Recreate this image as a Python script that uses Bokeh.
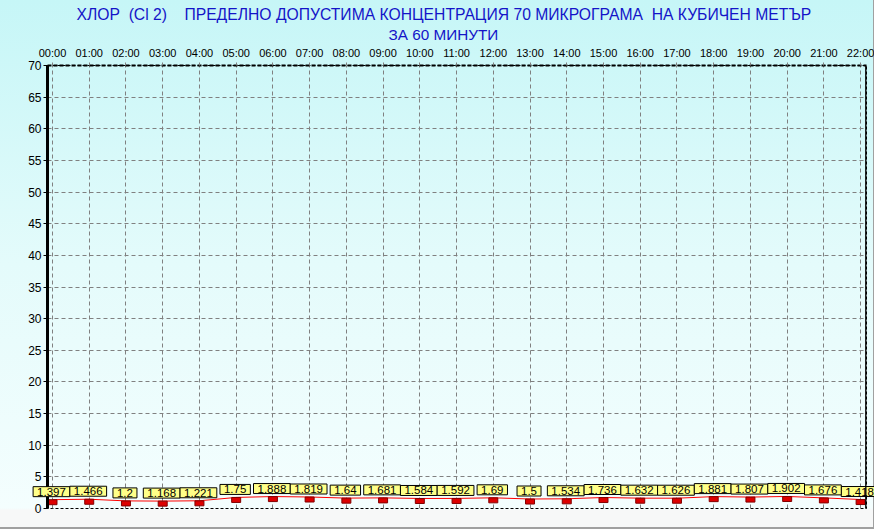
from bokeh.plotting import figure
from bokeh.models import ColumnDataSource, FixedTicker, Title, Span, Range1d, Label
from bokeh.transform import dodge
from bokeh.embed import file_html
from bokeh.resources import INLINE

# ---- data ----
hours = list(range(23))
hour_labels = ["00:00", "01:00", "02:00", "03:00", "04:00", "05:00", "06:00", "07:00",
               "08:00", "09:00", "10:00", "11:00", "12:00", "13:00", "14:00", "15:00",
               "16:00", "17:00", "18:00", "19:00", "20:00", "21:00", "22:00"]
values = [1.397, 1.466, 1.2, 1.168, 1.221, 1.75, 1.888, 1.819, 1.64, 1.681, 1.584,
          1.592, 1.69, 1.5, 1.534, 1.736, 1.632, 1.626, 1.881, 1.807, 1.902, 1.676, 1.418]
value_labels = ["1.397", "1.466", "1.2", "1.168", "1.221", "1.75", "1.888", "1.819",
                "1.64", "1.681", "1.584", "1.592", "1.69", "1.5", "1.534", "1.736",
                "1.632", "1.626", "1.881", "1.807", "1.902", "1.676", "1.418"]
y_ticks = [0, 5, 10, 15, 20, 25, 30, 35, 40, 45, 50, 55, 60, 65, 70]
y_minor_ticks = list(range(0, 71))
NB = "\u00a0"
title_line1 = ("ХЛОР" + NB + " (Cl 2)" + NB * 3 + " ПРЕДЕЛНО ДОПУСТИМА КОНЦЕНТРАЦИЯ 70 МИКРОГРАМА"
               + NB + " НА КУБИЧЕН МЕТЪР")
title_line2 = "ЗА 60 МИНУТИ"

FONT = "Liberation Sans"

src = ColumnDataSource(dict(x=hours, y=values, label=value_labels))

p = figure(width=874, height=529,
           x_range=Range1d(-0.136, 22.16), y_range=Range1d(0, 70),
           x_axis_location="above",
           output_backend="svg", toolbar_location=None,
           min_border_left=47, min_border_right=8,
           min_border_top=65, min_border_bottom=21)

p.background_fill_alpha = 0
p.border_fill_alpha = 0
p.styles = {
    "background": "linear-gradient(to bottom, #c6f6f7 0%, #e4fbfb 50%, #f4fefe 96%, #f7f8f8 96.5%, #f7f8f8 100%)",
    "box-shadow": "inset -1px -2px 0 #a0a0a0",
}
p.outline_line_color = "black"
p.outline_line_dash = "3 2"
p.outline_line_width = 1

# x axis (top)
xa = p.xaxis[0]
xa.ticker = FixedTicker(ticks=hours, minor_ticks=[])
xa.major_label_overrides = {h: lab for h, lab in zip(hours, hour_labels)}
xa.major_label_text_font = FONT
xa.major_label_text_font_size = "11px"
xa.major_label_text_color = "black"
xa.major_label_standoff = 4
xa.major_tick_out = 3
xa.major_tick_in = 0
xa.major_tick_line_color = "#808080"
xa.axis_line_color = "black"
xa.axis_line_width = 2
xa.axis_line_dash = "4 2"

# y axis (left)
ya = p.yaxis[0]
ya.ticker = FixedTicker(ticks=y_ticks, minor_ticks=y_minor_ticks)
ya.major_label_text_font = FONT
ya.major_label_text_font_size = "12px"
ya.major_label_text_color = "black"
ya.major_label_standoff = 2
ya.major_tick_out = 4
ya.major_tick_in = 0
ya.minor_tick_out = 1
ya.minor_tick_in = 0
ya.axis_line_color = "black"
ya.axis_line_width = 3

# grids
for g in (p.xgrid, p.ygrid):
    g.grid_line_color = "#808080"
    g.grid_line_dash = "4 3"
    g.grid_line_width = 1

p.add_layout(Span(location=22.15, dimension="height", line_color="black", line_width=2))

# series
p.line("x", "y", source=src, line_color="#ff0000", line_width=1)
p.rect("x", dodge("y", -0.4, range=p.y_range), source=src, width=9, height=5,
       width_units="screen", height_units="screen",
       fill_color="#dd0000", line_color="#800000", line_width=1)

# value boxes; the two end boxes overhang the frame, so they go in a side panel (no clipping)
last = len(hours) - 1
for i, (xv, yv, lab) in enumerate(zip(hours, values, value_labels)):
    lbl = Label(x=xv, y=yv, text=lab,
                text_align="center", text_baseline="middle", x_offset=-1, y_offset=8,
                text_font=FONT, text_font_size="11.5px", text_color="black",
                background_fill_color="#ffff88", border_line_color="black",
                border_line_width=1, padding=dict(left=4, right=4, top=1, bottom=1))
    if i == 0 or i == last:
        p.add_layout(lbl, "below")
    else:
        p.add_layout(lbl)

# title (line 2 added first so line 1 sits on top)
p.add_layout(Title(text=title_line2, align="left", offset=341, standoff=1,
                   text_font=FONT, text_font_size="15.3px", text_font_style="normal",
                   text_color="#1414c8"), "above")
p.add_layout(Title(text=title_line1, align="left", offset=29, standoff=2,
                   text_font=FONT, text_font_size="15.7px", text_font_style="normal",
                   text_color="#1414c8"), "above")

open("out.html", "w").write(file_html(p, INLINE))
